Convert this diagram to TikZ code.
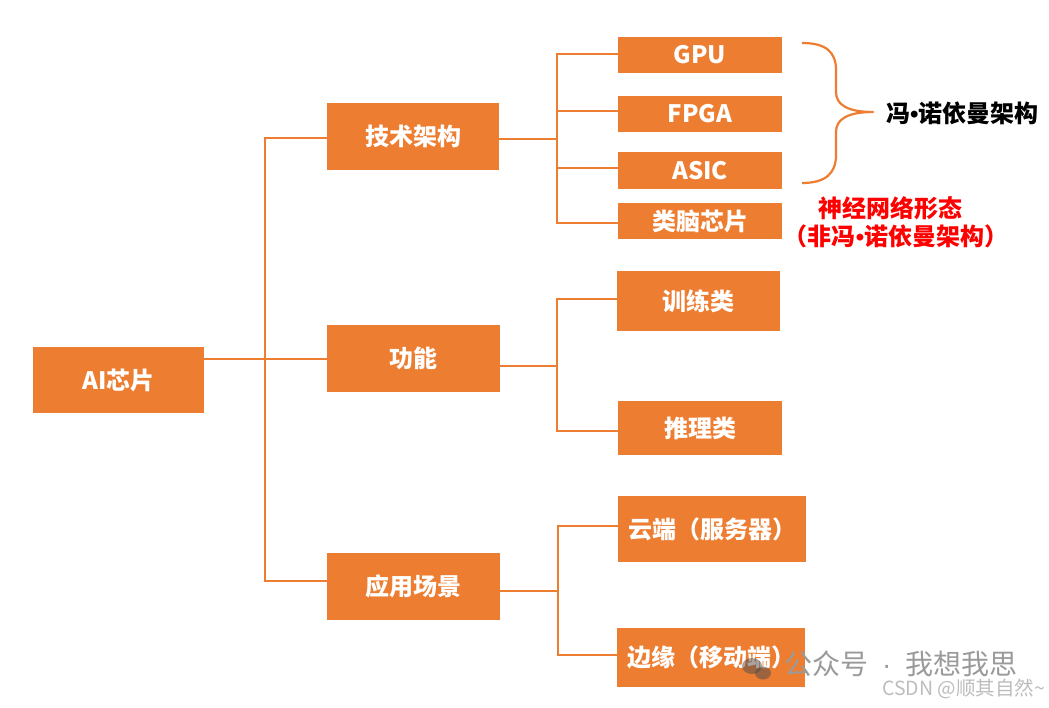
\documentclass[tikz,border=0pt]{standalone}
\usepackage{fontspec}
\newfontfamily\cjk{Noto Sans CJK SC}
\newfontfamily\lat{Liberation Sans}
\newcommand{\bul}{{\lat\bfseries •}}
\definecolor{ora}{HTML}{ED7D31}
\definecolor{wm}{HTML}{9A9A9A}
\definecolor{wm2}{HTML}{BDBDBD}
\tikzset{
  box/.style={fill=ora, draw=none, inner sep=0pt, text=white, font=\cjk\bfseries\fontsize{24}{28}\selectfont},
  conn/.style={draw=ora, line width=2.2pt},
  note/.style={inner sep=0pt, font=\cjk\bfseries\fontsize{24}{28}\selectfont}
}
\begin{document}
\begin{tikzpicture}[x=1pt,y=-1pt]
\useasboundingbox[fill=white] (0,0) rectangle (1049,707);
% boxes
\node[box, minimum width=171pt, minimum height=66pt] (ai) at (118.5,380) {AI芯片};
\node[box, minimum width=172pt, minimum height=67pt] (tech) at (413,136.5) {技术架构};
\node[box, minimum width=173pt, minimum height=67pt] (func) at (413.5,358.5) {功能};
\node[box, minimum width=173pt, minimum height=67pt] (app) at (413.5,586.5) {应用场景};
\node[box, minimum width=164pt, minimum height=36pt] (gpu) at (700,55) {GPU};
\node[box, minimum width=164pt, minimum height=36pt] (fpga) at (700,114) {FPGA};
\node[box, minimum width=164pt, minimum height=37pt] (asic) at (700,170.5) {ASIC};
\node[box, minimum width=164pt, minimum height=36pt] (brain) at (700,221) {类脑芯片};
\node[box, minimum width=163pt, minimum height=60pt] (train) at (698.5,301) {训练类};
\node[box, minimum width=164pt, minimum height=54pt] (infer) at (700,428) {推理类};
\node[box, minimum width=188pt, minimum height=66pt, text width=168pt, align=left] (cloud) at (712,529) {云端（服务器）};
\node[box, minimum width=188pt, minimum height=59pt, text width=168pt, align=left] (edge) at (711,657.5) {边缘（移动端）};
% level 1 connectors
\coordinate (ja) at (265,138);
\coordinate (jm) at (265,359);
\coordinate (jb) at (265,581);
\draw[conn] (tech.west |- ja) -- (ja) -- (jb) -- (app.west |- jb);
\draw[conn] (ai.east |- jm) -- (func.west |- jm);
% tech branch
\coordinate (k0) at (557,139);
\coordinate (k1) at (557,54);
\coordinate (k2) at (557,111);
\coordinate (k3) at (557,168);
\coordinate (k4) at (557,223);
\draw[conn] (tech.east |- k0) -- (k0);
\draw[conn] (gpu.west |- k1) -- (k1) -- (k4) -- (brain.west |- k4);
\draw[conn] (k2) -- (fpga.west |- k2);
\draw[conn] (k3) -- (asic.west |- k3);
% func branch
\coordinate (f0) at (557,366);
\coordinate (f1) at (557,299);
\coordinate (f2) at (557,431);
\draw[conn] (func.east |- f0) -- (f0);
\draw[conn] (train.west |- f1) -- (f1) -- (f2) -- (infer.west |- f2);
% app branch
\coordinate (a0) at (558,591);
\coordinate (a1) at (558,526);
\coordinate (a2) at (558,655);
\draw[conn] (app.east |- a0) -- (a0);
\draw[conn] (cloud.west |- a1) -- (a1) -- (a2) -- (edge.west |- a2);
% brace
\coordinate (bt) at (802,43);
\coordinate (bp) at (873,112);
\coordinate (bb) at (802,183);
\draw[conn, line join=round] (bt) .. controls (826,43) and (836,52) .. (836,70) -- (836,92)
  .. controls (836,105) and (848,112) .. (bp)
  .. controls (848,112) and (836,119) .. (836,132) -- (836,155)
  .. controls (836,173) and (826,183) .. (bb);
\node[note, anchor=west] (von) at (886,113) {冯\bul 诺依曼架构};
\node[note, text=red] (neu1) at (890,208) {神经网络形态};
\node[note, text=red] (neu2) at (896,236) {（非冯\bul 诺依曼架构）};
% watermark
\fill[gray!60!black, opacity=0.5] (752,666) ellipse (10pt and 8pt);
\fill[gray!60!black, opacity=0.5] (763,673) ellipse (8pt and 6.5pt);
\node[inner sep=0pt, anchor=west, text=wm, font=\cjk\fontsize{28}{32}\selectfont] (wm1) at (784,664) {公众号\hspace{14pt}{\lat ·}\hspace{14pt}我想我思};
\node[inner sep=0pt, anchor=west, text=wm2, font=\cjk\fontsize{19.5}{22}\selectfont] (wm2n) at (882,689) {CSDN @顺其自然\textasciitilde};
\end{tikzpicture}
\end{document}
